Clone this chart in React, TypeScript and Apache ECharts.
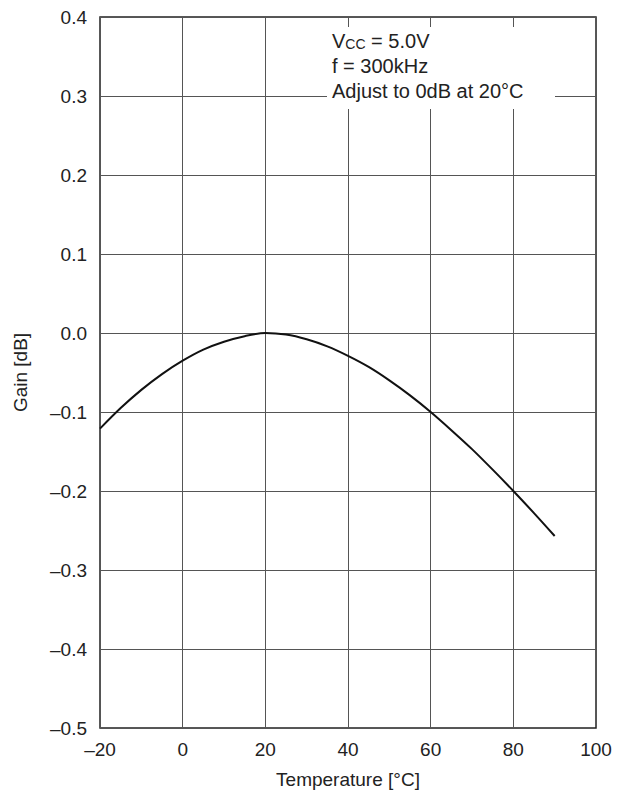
import React, { useEffect, useRef } from "react";
import * as echarts from "echarts";

const temperatures = [-20, -15, -10, -5, 0, 5, 10, 15, 20, 25, 30, 35, 40, 45, 50, 55, 60, 65, 70, 75, 80, 85, 90];
const gainDb = [-0.121, -0.095, -0.072, -0.052, -0.035, -0.021, -0.011, -0.004, 0.0, -0.002, -0.008, -0.017, -0.029, -0.043, -0.06, -0.079, -0.1, -0.123, -0.147, -0.173, -0.2, -0.228, -0.257];
const annotationLines = ["V{s|CC} = 5.0V", "f = 300kHz", "Adjust to 0dB at 20°C"];

const FONT = "'Liberation Sans', Arial, sans-serif";
const fmt = (v: number, d: number) => {
  const s = v.toFixed(d);
  return s.startsWith("-") ? "\u2013" + s.slice(1) : s;
};

export default function App() {
  const ref = useRef<HTMLDivElement>(null);
  useEffect(() => {
    if (!ref.current) return;
    const chart = echarts.init(ref.current, undefined, { renderer: "svg" });
    const data = temperatures.map((t, i) => [t, gainDb[i]]);
    chart.setOption({
      animation: false,
      backgroundColor: "#ffffff",
      textStyle: { fontFamily: FONT },
      grid: {
        left: 100,
        right: 24,
        top: 17,
        bottom: 66,
        show: true,
        borderColor: "#222",
        borderWidth: 1.5,
        containLabel: false,
      },
      xAxis: {
        type: "value",
        min: -20,
        max: 100,
        interval: 20,
        name: "Temperature [°C]",
        nameLocation: "middle",
        nameGap: 42,
        nameTextStyle: { fontSize: 19, color: "#222", fontFamily: FONT },
        axisLine: { show: false },
        axisTick: { show: false },
        axisLabel: {
          fontSize: 19,
          color: "#222",
          margin: 12,
          fontFamily: FONT,
          formatter: (v: number) => fmt(v, 0),
        },
        splitLine: { show: true, lineStyle: { color: "#555", width: 1 } },
      },
      yAxis: {
        type: "value",
        min: -0.5,
        max: 0.4,
        interval: 0.1,
        name: "Gain [dB]",
        nameLocation: "middle",
        nameGap: 70,
        nameRotate: 90,
        nameTextStyle: { fontSize: 19, color: "#222", fontFamily: FONT },
        axisLine: { show: false },
        axisTick: { show: false },
        axisLabel: {
          fontSize: 19,
          color: "#222",
          margin: 13,
          fontFamily: FONT,
          formatter: (v: number) => fmt(v, 1),
        },
        splitLine: { show: true, lineStyle: { color: "#555", width: 1 } },
      },
      graphic: [
        {
          type: "rect",
          z: 100,
          shape: { x: 327, y: 27, width: 228, height: 82 },
          style: { fill: "#ffffff" },
        },
        ...annotationLines.map((line, i) => ({
          type: "text",
          z: 101,
          x: 332,
          y: 41 + i * 25,
          style: {
            text: line,
            fontSize: 20,
            fontFamily: FONT,
            fill: "#222",
            verticalAlign: "middle",
            rich: {
              s: { fontSize: 14, fontFamily: FONT, fill: "#222", verticalAlign: "bottom" },
            },
          },
        })),
      ],
      series: [
        {
          type: "line",
          data,
          smooth: 0.3,
          showSymbol: false,
          lineStyle: { color: "#111", width: 2 },
          z: 5,
        },
      ],
    });
    return () => chart.dispose();
  }, []);
  return <div ref={ref} style={{ position: "fixed", left: 0, top: 0, width: 620, height: 794 }} />;
}
